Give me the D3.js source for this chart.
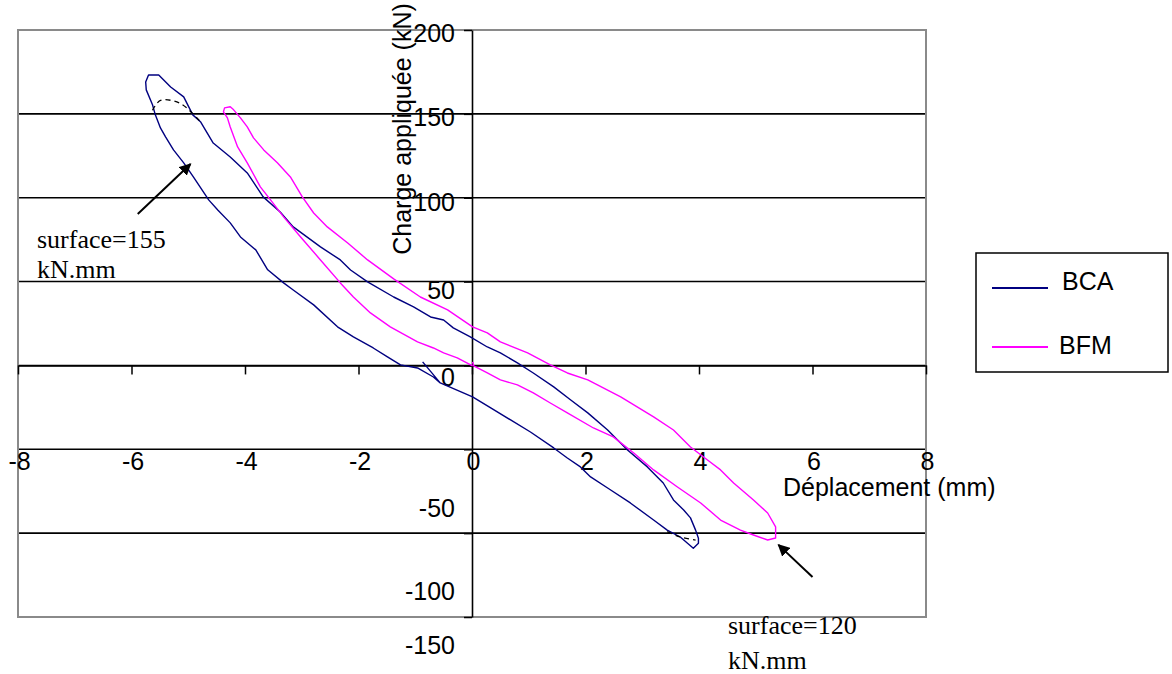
<!DOCTYPE html>
<html>
<head>
<meta charset="utf-8">
<script src="https://cdn.jsdelivr.net/npm/d3@7"></script>
<style>
    body { margin: 0; background: #fff; }
    text { font-family: "Liberation Sans", Arial, sans-serif; }
    .serif { font-family: "Liberation Serif", "Times New Roman", serif; }
</style>
</head>
<body>
<div id="chart"></div>
<script>
// hysteresis loops, load (kN) vs displacement (mm)

const xTicks = [-8, -6, -4, -2, 0, 2, 4, 6, 8];
const yTicks = [-150, -100, -50, 0, 50, 100, 150, 200];

// BCA loop, [displacement, load]
const bcaX = [-0.87, -0.56, 0.01, 0.33, 0.68, 1.03, 1.44, 1.68, 1.91, 2.09, 2.39, 2.79, 3.20, 3.44, 3.67, 3.90,
    3.99, 3.99, 3.94, 3.85, 3.73, 3.55, 3.37, 3.09, 2.74, 2.39, 2.04, 1.74, 1.44, 1.08, 0.80, 0.50, 0.27,
    -0.03, -0.33, -0.50, -0.73, -1.03, -1.38, -1.84, -2.14, -2.32, -2.67, -3.15, -3.38, -3.68, -3.96, -4.26,
    -4.56, -4.78, -4.92, -5.08, -5.31, -5.52, -5.70, -5.75, -5.74, -5.63, -5.58, -5.49, -5.40, -5.26, -5.08,
    -4.91, -4.64, -4.48, -4.26, -4.08, -3.81, -3.60, -3.32, -3.15, -2.79, -2.37, -2.09, -1.74, -1.49, -1.26,
    -0.96, -0.68, -0.56];
const bcaY = [2.1, -10.4, -18.8, -25.3, -32.5, -39.7, -49.2, -55.2, -60.5, -66.5, -73.1, -82.0, -92.2, -98.2, -102.3, -109.0,
    -106.0, -103.0, -98.2, -90.9, -86.2, -80.2, -70.1, -60.5, -50.4, -38.5, -28.3, -20.6, -12.8, -4.5, 1.5, 7.5, 11.0,
    17.0, 22.4, 27.1, 28.9, 34.9, 40.8, 49.8, 56.9, 62.9, 70.7, 82.6, 91.5, 100.5, 114.8, 124.3,
    132.6, 145.1, 149.4, 160.1, 166.0, 173.2, 173.2, 169.0, 164.3, 155.4, 149.4, 141.6, 136.3, 128.5, 120.8,
    112.4, 98.7, 92.7, 85.0, 76.6, 68.9, 57.0, 49.2, 45.0, 36.1, 23.0, 17.0, 10.4, 5.1, 0.3,
    -1.5, -6.9, -10.4];

// BFM loop
const bfmX = [0.01, 0.03, 0.27, 0.50, 0.80, 1.08, 1.38, 1.68, 2.14, 2.49, 2.85, 3.20, 3.62, 4.03, 4.38, 4.73, 4.96, 5.21,
    5.35, 5.35, 5.21, 4.96, 4.61, 4.38, 4.15, 3.85, 3.55, 3.20, 2.62, 2.04, 1.68, 1.38, 0.98, 0.50, 0.27, 0.01,
    -0.43, -0.91, -1.38, -1.84, -2.19, -2.55, -2.79, -2.99, -3.20, -3.43, -3.67, -3.85, -3.96, -4.08, -4.20,
    -4.26, -4.36, -4.38, -4.31, -4.26, -4.13, -3.96, -3.73, -3.55, -3.32, -3.02, -2.67, -2.32, -2.09, -1.79,
    -1.44, -0.96, -0.68, -0.50, -0.26, 0.01];
const bfmY = [2.1, -0.3, -4.5, -8.6, -11.6, -16.4, -22.4, -28.3, -37.3, -42.6, -52.2, -62.3, -72.5, -82.0, -92.2, -98.2, -101.1, -104.1,
    -102.9, -96.3, -88.0, -80.2, -70.1, -62.3, -56.4, -48.6, -38.5, -30.7, -18.8, -8.6, -4.5, 0.3, 7.5, 14.0, 19.4, 23.0,
    33.1, 40.8, 51.6, 62.9, 73.0, 82.6, 90.9, 100.5, 112.4, 120.8, 128.5, 135.7, 142.2, 147.6, 152.4,
    154.2, 153.6, 151.2, 147.6, 142.2, 130.3, 120.8, 106.5, 98.7, 88.6, 76.6, 62.9, 49.2, 40.8, 31.3,
    23.0, 14.0, 10.4, 7.5, 4.5, -0.3];

// dashed closures used for the surface areas
const dashTopX = [-5.63, -5.49, -5.14, -4.78];
const dashTopY = [152.1, 158.0, 156.2, 145.1];
const dashBotX = [3.44, 3.67, 3.94];
const dashBotY = [-99.1, -102.3, -104.1];

const seriesNames = ["BCA", "BFM"];
const seriesColors = ["#000080", "#ff00ff"];

const notes = [
    { lines: ["surface=155", "kN.mm"], from: [-5.89, 90.3], to: [-4.96, 120.1] },
    { lines: ["surface=120", "kN.mm"], from: [6.0, -126.1], to: [5.40, -107.0] }
];

const W = 1172, H = 674;
const plot = { left: 18, right: 926, top: 30, bottom: 617 };

const svg = d3.select("#chart").append("svg")
    .attr("width", W).attr("height", H)
    .style("background", "#fff");

const x = d3.scaleLinear().domain([-8, 8]).range([plot.left, plot.right]);
const y = d3.scaleLinear().domain([-150, 200]).range([plot.bottom, plot.top]);

const fmt = d => String(d);   // plain hyphen minus, like the original

// gridlines
svg.append("g").selectAll("line")
    .data(yTicks.filter(d => d > -150 && d < 200))
    .enter().append("line")
    .attr("x1", plot.left).attr("x2", plot.right)
    .attr("y1", d => y(d)).attr("y2", d => y(d))
    .attr("stroke", "#000").attr("stroke-width", 1.6);

// frame
svg.append("rect")
    .attr("x", plot.left).attr("y", plot.top)
    .attr("width", plot.right - plot.left).attr("height", plot.bottom - plot.top)
    .attr("fill", "none").attr("stroke", "#8a8a8a").attr("stroke-width", 2);

// x axis on the zero line, labels sit lower
const xAxis = svg.append("g")
    .attr("transform", "translate(0," + y(0) + ")")
    .call(d3.axisBottom(x).tickValues(xTicks).tickSize(9).tickSizeOuter(0).tickFormat(fmt));
xAxis.select(".domain").attr("stroke", "#000").attr("stroke-width", 1.6);
xAxis.selectAll(".tick line").attr("stroke", "#000").attr("stroke-width", 1.5);
xAxis.selectAll("text")
    .attr("y", 470 - y(0)).attr("dy", 0).attr("dx", 1)
    .attr("fill", "#000").style("font-size", "25px")
    .style("font-family", "'Liberation Sans', Arial, sans-serif");

// y axis at x = 0
const yLabelShift = { "200": 3, "150": 3, "100": 4, "50": 8, "0": 11, "-50": 58, "-100": 58, "-150": 28 };
const yAxis = svg.append("g")
    .attr("transform", "translate(" + x(0) + ",0)")
    .call(d3.axisLeft(y).tickValues(yTicks).tickSize(8).tickSizeOuter(0).tickPadding(9).tickFormat(fmt));
yAxis.select(".domain").attr("stroke", "#000").attr("stroke-width", 1.6);
yAxis.selectAll(".tick line").attr("stroke", "#000").attr("stroke-width", 1.5);
yAxis.selectAll("text")
    .attr("dy", "0.35em")
    .attr("y", d => yLabelShift[String(d)])
    .attr("fill", "#000").style("font-size", "25px")
    .style("font-family", "'Liberation Sans', Arial, sans-serif");

// axis titles
svg.append("text")
    .attr("transform", "translate(411,129) rotate(-90)")
    .attr("text-anchor", "middle")
    .style("font-size", "25px")
    .text("Charge appliquée (kN)");

svg.append("text")
    .attr("x", 783).attr("y", 496)
    .style("font-size", "25px")
    .text("Déplacement (mm)");

// curves
const line = d3.line().x(d => x(d[0])).y(d => y(d[1]));
const bca = d3.zip(bcaX, bcaY);
const bfm = d3.zip(bfmX, bfmY);

[bca, bfm].forEach((pts, i) => {
    svg.append("path")
        .datum(pts)
        .attr("d", line)
        .attr("fill", "none")
        .attr("stroke", seriesColors[i])
        .attr("stroke-width", 1.4)
        .attr("stroke-linejoin", "round");
});

[d3.zip(dashTopX, dashTopY), d3.zip(dashBotX, dashBotY)].forEach(pts => {
    svg.append("path")
        .datum(pts)
        .attr("d", d3.line().curve(d3.curveCatmullRom).x(d => x(d[0])).y(d => y(d[1])))
        .attr("fill", "none")
        .attr("stroke", "#000")
        .attr("stroke-width", 1.3)
        .attr("stroke-dasharray", "5,4");
});

// annotations
svg.append("defs").append("marker")
    .attr("id", "arrow")
    .attr("viewBox", "0 0 10 10")
    .attr("refX", 9).attr("refY", 5)
    .attr("markerWidth", 6).attr("markerHeight", 6)
    .attr("orient", "auto")
    .append("path")
    .attr("d", "M0,0 L10,5 L0,10 Z")
    .attr("fill", "#000");

notes.forEach(n => {
    svg.append("line")
        .attr("x1", x(n.from[0])).attr("y1", y(n.from[1]))
        .attr("x2", x(n.to[0])).attr("y2", y(n.to[1]))
        .attr("stroke", "#000").attr("stroke-width", 2)
        .attr("marker-end", "url(#arrow)");
});

const noteText = [
    { x: 37, y: 248, gap: 30 },
    { x: 728, y: 634, gap: 35 }
];
notes.forEach((n, i) => {
    n.lines.forEach((t, j) => {
        svg.append("text")
            .attr("class", "serif")
            .attr("x", noteText[i].x)
            .attr("y", noteText[i].y + j * noteText[i].gap)
            .style("font-size", "26px")
            .text(t);
    });
});

// legend
const legend = svg.append("g");
legend.append("rect")
    .attr("x", 976).attr("y", 253)
    .attr("width", 192).attr("height", 119)
    .attr("fill", "#fff").attr("stroke", "#000").attr("stroke-width", 1.5);

const legendRowY = [288, 347];
const legendTextX = [1062, 1059];
seriesNames.forEach((name, i) => {
    legend.append("line")
        .attr("x1", 992).attr("x2", 1048)
        .attr("y1", legendRowY[i]).attr("y2", legendRowY[i])
        .attr("stroke", seriesColors[i]).attr("stroke-width", 2);
    legend.append("text")
        .attr("x", legendTextX[i])
        .attr("y", legendRowY[i] + 2 + i * 5)
        .style("font-size", "25px")
        .text(name);
});
</script>
</body>
</html>
